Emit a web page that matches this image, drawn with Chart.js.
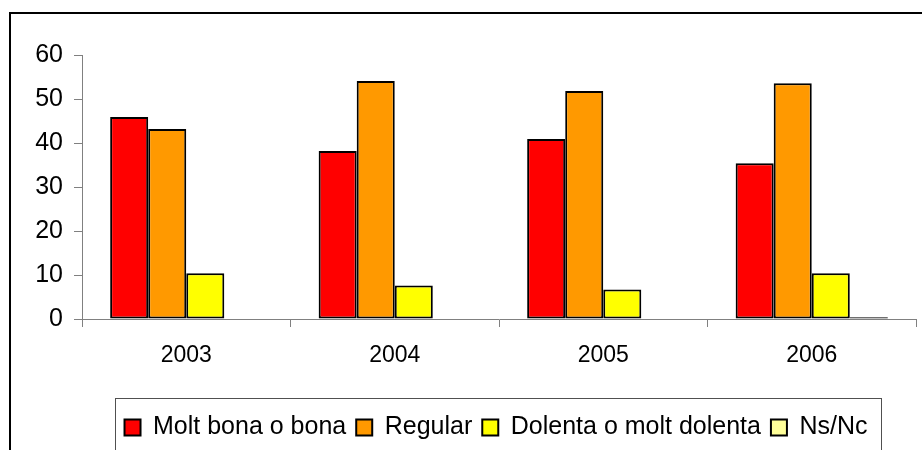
<!DOCTYPE html>
<html>
<head>
<meta charset="utf-8">
<script src="https://cdn.jsdelivr.net/npm/chart.js@4"></script>
<style>
  html, body { margin: 0; padding: 0; background: #fff; }
  #wrap { width: 922px; height: 450px; }
</style>
</head>
<body>
<div id="wrap"><canvas id="chart" width="922" height="450"></canvas></div>
<script>
// Valoració per any
const years = ['2003', '2004', '2005', '2006'];
const boBona = [45.9, 38.2, 40.9, 35.4];
const regular = [43.2, 54.1, 51.8, 53.6];
const dolenta = [10.4, 7.6, 6.7, 10.4];
const nsnc = [0, 0, 0, 0.4];
const yTicks = [0, 10, 20, 30, 40, 50, 60];

const fontFamily = "'Liberation Sans', Arial, sans-serif";
const axisGrey = '#808080';

// the legend sits a bit right of the canvas centre in the original
const legendShift = 33;

const framePlugin = {
  id: 'frame',
  afterLayout(chart) {
    const lg = chart.legend;
    if (lg) {
      lg.left += legendShift;
      lg.right += legendShift;
    }
  },
  afterDraw(chart) {
    const ctx = chart.ctx;
    ctx.save();
    // outer frame, only left + top show in the crop
    ctx.strokeStyle = '#000';
    ctx.lineWidth = 2;
    ctx.beginPath();
    ctx.moveTo(10, 450);
    ctx.lineTo(10, 13);
    ctx.lineTo(922, 13);
    ctx.stroke();

    // box round the legend
    const lg = chart.legend;
    if (lg && lg.legendHitBoxes && lg.legendHitBoxes.length) {
      const boxes = lg.legendHitBoxes;
      const first = boxes[0];
      const last = boxes[boxes.length - 1];
      const left = first.left - 9.5;
      const right = last.left + last.width + 13.5;
      const top = first.top - 17.5;
      ctx.strokeStyle = '#505050';
      ctx.lineWidth = 1;
      ctx.strokeRect(Math.round(left) + 0.5, Math.round(top) + 0.5, Math.round(right - left), 80);
    }
    ctx.restore();
  }
};

function barSet(label, data, color) {
  return {
    label: label,
    data: data,
    backgroundColor: color,
    borderColor: '#000',
    borderWidth: 2,
    borderSkipped: false,
    categoryPercentage: 0.73,
    barPercentage: 1.0
  };
}

const ctx = document.getElementById('chart').getContext('2d');
new Chart(ctx, {
  type: 'bar',
  data: {
    labels: years,
    datasets: [
      barSet('Molt bona o bona', boBona, '#FF0000'),
      barSet('Regular', regular, '#FF9900'),
      barSet('Dolenta o molt dolenta', dolenta, '#FFFF00'),
      barSet('Ns/Nc', nsnc, '#FFFF99')
    ]
  },
  options: {
    responsive: false,
    animation: false,
    layout: { padding: { left: 10, right: 6, top: 55, bottom: 0 } },
    plugins: {
      legend: {
        position: 'bottom',
        labels: {
          font: { family: fontFamily, size: 25 },
          color: '#000',
          boxWidth: 16,
          boxHeight: 16,
          padding: 10
        }
      },
      tooltip: { enabled: false }
    },
    scales: {
      x: {
        offset: true,
        grid: {
          offset: true,
          drawOnChartArea: false,
          drawTicks: true,
          tickLength: 8,
          color: axisGrey
        },
        border: { display: true, color: axisGrey, width: 1 },
        ticks: {
          font: { family: fontFamily, size: 23 },
          color: '#000',
          padding: 15
        },
        afterFit(scale) { scale.height = 86; }
      },
      y: {
        min: yTicks[0],
        max: yTicks[yTicks.length - 1],
        grid: {
          drawOnChartArea: false,
          drawTicks: true,
          tickLength: 8,
          color: axisGrey
        },
        border: { display: true, color: axisGrey, width: 1 },
        ticks: {
          stepSize: yTicks[1] - yTicks[0],
          font: { family: fontFamily, size: 25 },
          color: '#000',
          padding: 11
        },
        afterFit(scale) { scale.width = 72; }
      }
    }
  },
  plugins: [framePlugin]
});
</script>
</body>
</html>
